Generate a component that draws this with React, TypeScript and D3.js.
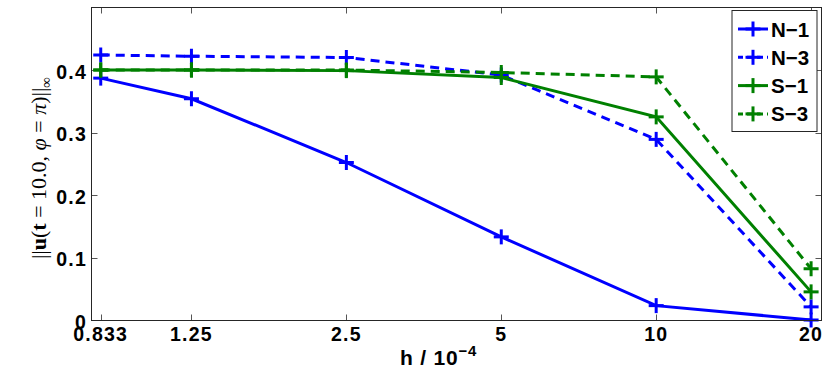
import React from "react";
import * as d3 from "d3";

const hValues = [0.833, 1.25, 2.5, 5, 10, 20];
const xTickLabels = ["0.833", "1.25", "2.5", "5", "10", "20"];
const yTicks = [0, 0.1, 0.2, 0.3, 0.4];
const seriesNames = ["N\u22121", "N\u22123", "S\u22121", "S\u22123"];
const seriesColors = ["#0000ff", "#0000ff", "#008000", "#008000"];
const seriesDashed = [false, true, false, true];
const n1 = [0.387, 0.354, 0.252, 0.133, 0.023, 0.0];
const n3 = [0.424, 0.422, 0.42, 0.392, 0.289, 0.021];
const s1 = [0.4, 0.4, 0.399, 0.388, 0.325, 0.045];
const s3 = [0.4, 0.4, 0.4, 0.396, 0.389, 0.082];
const seriesValues = [n1, n3, s1, s3];

const W = 830, H = 377;
const L = 91.5, R = 821.5, T = 7.5, B = 320.5;

export default function App() {
  const x = d3.scaleLog().domain([0.8, 21]).range([L + 0.2, R + 0.5]);
  const y = d3.scaleLinear().domain([0, 0.5]).range([B - 0.5, T]);
  const line = d3.line<number>().x((_, i) => x(hValues[i])).y((d) => y(d));
  const font = "'Liberation Sans', Arial, Helvetica, sans-serif";
  const plus = (cx: number, cy: number, color: string, key: string) => (
    <g key={key} stroke={color} strokeWidth={3} strokeLinecap="butt">
      <line x1={cx - 7.5} x2={cx + 7.5} y1={cy} y2={cy} />
      <line x1={cx} x2={cx} y1={cy - 7.5} y2={cy + 7.5} />
    </g>
  );
  const legX = 732, legY = 10.5, legW = 85, legH = 121;
  return (
    <svg width={W} height={H} style={{ position: "absolute", left: 0, top: 0 }}>
      <rect width={W} height={H} fill="#fff" />
      {/* ticks */}
      <g stroke="#555" strokeWidth={1}>
        {hValues.map((h, i) => (
          <g key={"xt" + i}>
            <line x1={Math.round(x(h)) + 0.5} x2={Math.round(x(h)) + 0.5} y1={B} y2={B - 6} />
            <line x1={Math.round(x(h)) + 0.5} x2={Math.round(x(h)) + 0.5} y1={T} y2={T + 6} />
          </g>
        ))}
        {yTicks.map((v, i) => (
          <g key={"yt" + i}>
            <line x1={L} x2={L + 6} y1={Math.round(y(v)) + 0.5} y2={Math.round(y(v)) + 0.5} />
            <line x1={R} x2={R - 6} y1={Math.round(y(v)) + 0.5} y2={Math.round(y(v)) + 0.5} />
          </g>
        ))}
      </g>
      {/* series */}
      {seriesValues.map((vals, si) => (
        <g key={"s" + si}>
          <path
            d={line(vals) || ""}
            fill="none"
            stroke={seriesColors[si]}
            strokeWidth={3}
            strokeDasharray={seriesDashed[si] ? "9,6" : undefined}
          />
          {vals.map((v, i) => plus(x(hValues[i]), y(v), seriesColors[si], "p" + si + "_" + i))}
        </g>
      ))}
      {/* axes box */}
      <rect x={L} y={T} width={R - L} height={B - T} fill="none" stroke="#262626" strokeWidth={1} />
      {/* tick labels */}
      <g fontFamily={font} fontWeight="bold" fontSize={19.5} fill="#000" letterSpacing={1.2}>
        {hValues.map((h, i) => (
          <text key={"xl" + i} x={x(h)} y={341} textAnchor="middle">{xTickLabels[i]}</text>
        ))}
        {yTicks.map((v, i) => (
          <text key={"yl" + i} x={87} y={y(v) + 8.5} textAnchor="end">{v === 0 ? "0" : v.toFixed(1)}</text>
        ))}
      </g>
      {/* x label */}
      <text x={400} y={365} fontFamily={font} fontWeight="bold" fontSize={21} fill="#000" letterSpacing={0.8}>
        h / 10<tspan dy={-9} fontSize={15}>{"\u22124"}</tspan>
      </text>
      {/* y label */}
      <text
        transform="translate(46,168) rotate(-90)"
        textAnchor="middle"
        fontFamily="'Liberation Serif', 'DejaVu Serif', serif"
        fontSize={22}
        fill="#000"
      >
        {"||"}
        <tspan fontWeight="bold">u</tspan>
        {"("}
        <tspan fontWeight="bold">t</tspan>
        {" = 10.0, "}
        <tspan fontStyle="italic">{"\u03C6"}</tspan>
        {" = "}
        <tspan fontStyle="italic">{"\u03C0"}</tspan>
        {")||"}
        <tspan dy={5} fontSize={15}>{"\u221E"}</tspan>
      </text>
      {/* legend */}
      <rect x={legX} y={legY} width={legW} height={legH} fill="#fff" stroke="#262626" strokeWidth={1} />
      {seriesNames.map((name, i) => {
        const cy = 29 + i * 28.3;
        return (
          <g key={"lg" + i}>
            <line
              x1={738}
              x2={768}
              y1={cy}
              y2={cy}
              stroke={seriesColors[i]}
              strokeWidth={3}
              strokeDasharray={seriesDashed[i] ? "6,4" : undefined}
              strokeDashoffset={seriesDashed[i] ? 1 : undefined}
            />
            {plus(753, cy, seriesColors[i], "lp" + i)}
            <text x={771} y={cy + 7.5} fontFamily={font} fontWeight="bold" fontSize={20.5} fill="#000">
              {name}
            </text>
          </g>
        );
      })}
    </svg>
  );
}
